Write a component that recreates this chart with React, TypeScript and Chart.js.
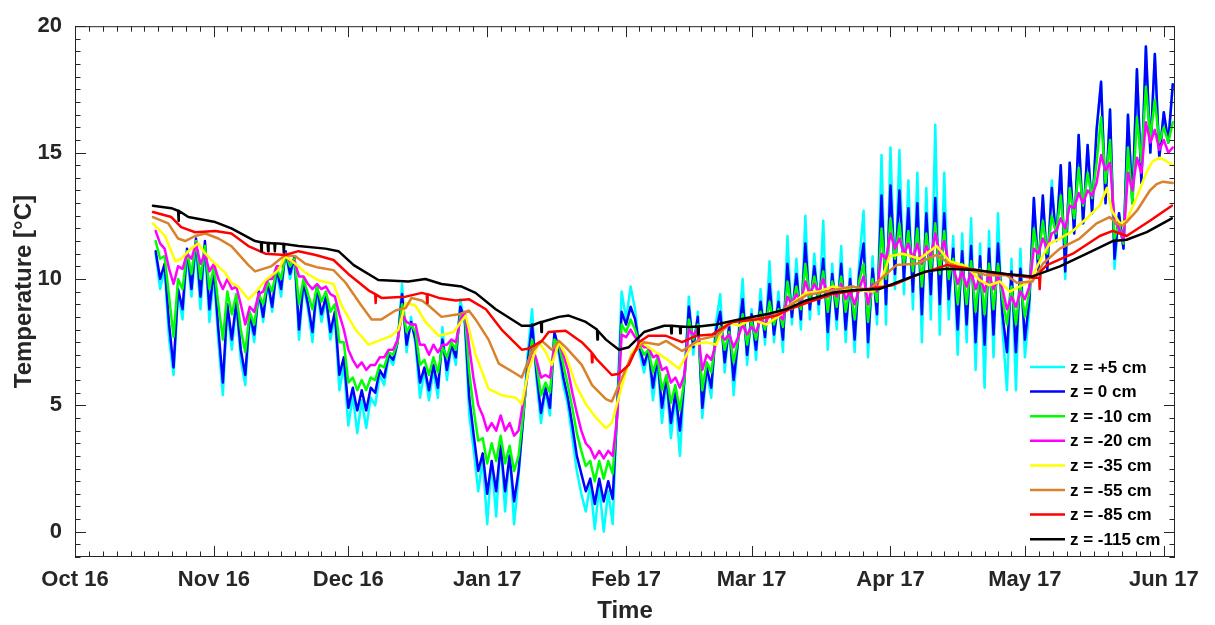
import React, { useEffect, useRef } from "react";
import { Chart, registerables } from "chart.js";

Chart.register(...registerables);

// ---------------- Axes (x = days since 1 Oct 2016) ----------------
const MONTH_START_DAYS = [0, 31, 61, 92, 123, 151, 182, 212, 243];
const MONTH_LENGTHS = [31, 30, 31, 31, 28, 31, 30, 31, 30];
const MONTH_LABELS = ["Oct 16", "Nov 16", "Dec 16", "Jan 17", "Feb 17", "Mar 17", "Apr 17", "May 17", "Jun 17"];
const Y_TICKS = [0, 5, 10, 15, 20];
const X_RANGE = [0, 245.5];
const Y_RANGE = [-1, 20];

const SERIES_LABELS = ["z = +5 cm", "z = 0 cm", "z = -10 cm", "z = -20 cm", "z = -35 cm", "z = -55 cm", "z = -85 cm", "z = -115 cm"];
const SERIES_COLORS = ["#00FFFF", "#0000FF", "#00FF00", "#FF00FF", "#FFFF00", "#D9822B", "#FF0000", "#000000"];

// ---------------- Near-surface sensors: one reading per day from day 18 (19 Oct 2016) ----------------
const SURFACE_FIRST_DAY = 18;

const T_PLUS5 = [
  11.0, 9.6, 10.4, 7.6, 6.2, 9.4, 8.4, 11.0, 9.3, 11.3,
  8.8, 11.3, 8.3, 10.2, 7.5, 5.4, 8.8, 7.2, 9.0, 6.8,
  5.8, 8.5, 7.5, 9.5, 8.3, 9.9, 8.7, 10.3, 9.3, 11.1,
  10.0, 10.8, 7.6, 9.8, 8.8, 7.5, 9.6, 8.3, 9.2, 7.6,
  8.5, 5.6, 6.6, 4.2, 5.4, 3.9, 5.2, 4.1, 5.3, 5.0,
  6.2, 5.8, 6.9, 6.6, 7.5, 9.8, 7.1, 8.5, 7.4, 5.3,
  6.4, 5.2, 6.4, 5.3, 8.1, 6.0, 7.4, 6.6, 9.2, 8.2,
  4.6, 3.2, 1.6, 2.9, 0.3, 2.8, 0.6, 3.6, 0.8, 3.2,
  0.3, 2.2, 4.5, 7.0, 8.8, 6.0, 4.3, 5.6, 4.6, 7.9,
  7.0, 5.8, 5.0, 3.7, 2.4, 1.5, 0.8, 1.9, 0.1, 1.8,
  0.0, 1.6, 0.3, 5.0, 9.5, 8.4, 9.7, 8.8, 7.1, 6.3,
  7.2, 5.2, 6.8, 4.3, 6.0, 3.7, 5.4, 3.0, 6.0, 9.3,
  7.0, 8.7, 4.5, 6.4, 5.3, 8.2, 9.4, 6.3, 8.3, 5.4,
  7.6, 10.0, 6.6, 8.8, 6.8, 9.6, 7.4, 10.7, 7.5, 9.5,
  7.1, 11.7, 8.2, 10.8, 8.0, 12.5, 8.4, 11.0, 8.6, 12.3,
  7.2, 10.6, 8.0, 11.3, 7.5, 10.4, 7.1, 10.6, 12.7, 6.9,
  10.9, 8.2, 14.9, 8.2, 15.2, 9.6, 15.1, 9.4, 13.9, 8.8,
  14.2, 7.5, 13.6, 8.4, 16.1, 7.8, 14.2, 8.4, 11.7, 7.0,
  11.8, 7.5, 12.4, 6.4, 11.4, 5.7, 11.9, 6.9, 12.6, 8.0,
  5.6, 10.8, 5.6, 11.2, 6.9, 8.8, 13.2, 10.3, 13.3, 10.4,
  13.9, 11.5, 14.5, 10.0, 14.6, 11.8, 15.7, 12.2, 15.3, 12.6,
  15.9, 17.8, 13.0, 16.7, 10.4, 12.6, 11.2, 16.5, 13.0, 18.3,
  13.8, 19.2, 15.0, 18.9, 14.8, 16.6, 15.4, 17.7,
];

const T_0 = [
  11.1, 10.0, 10.6, 8.2, 6.5, 9.6, 8.8, 11.2, 9.6, 11.6,
  9.3, 11.5, 8.8, 10.4, 8.0, 5.9, 9.0, 7.6, 9.1, 7.2,
  6.2, 8.6, 7.8, 9.5, 8.5, 9.9, 8.9, 10.4, 9.6, 11.1,
  10.2, 10.9, 8.0, 9.9, 9.0, 7.9, 9.7, 8.6, 9.3, 7.9,
  8.7, 6.2, 6.9, 4.9, 5.7, 4.8, 5.6, 4.8, 5.7, 5.5,
  6.4, 6.1, 7.0, 6.8, 7.5, 9.4, 7.4, 8.3, 7.6, 5.9,
  6.5, 5.6, 6.6, 5.7, 7.6, 6.4, 7.4, 6.9, 8.9, 8.4,
  5.3, 3.8, 2.4, 3.1, 1.5, 2.8, 1.6, 3.4, 1.6, 3.0,
  1.2, 2.4, 4.4, 6.6, 8.2, 6.3, 4.7, 5.7, 4.9, 7.9,
  7.2, 6.1, 5.3, 4.2, 3.0, 2.3, 1.6, 2.1, 1.1, 2.1,
  1.2, 2.0, 1.3, 4.8, 8.7, 8.2, 8.9, 8.4, 7.3, 6.6,
  7.2, 5.7, 6.9, 4.9, 6.1, 4.3, 5.5, 4.0, 6.0, 8.9,
  7.3, 8.5, 4.9, 6.5, 5.7, 7.9, 8.7, 6.7, 8.1, 6.0,
  7.6, 9.2, 7.0, 8.6, 7.2, 9.1, 7.7, 9.8, 7.8, 9.1,
  7.6, 10.6, 8.5, 10.2, 8.4, 11.4, 8.8, 10.5, 9.0, 10.8,
  7.9, 10.2, 8.4, 10.6, 8.0, 10.0, 7.6, 10.2, 11.4, 7.5,
  10.4, 8.6, 13.3, 9.0, 13.7, 10.2, 13.5, 10.0, 12.8, 9.5,
  13.0, 8.6, 12.6, 9.4, 13.2, 9.0, 12.6, 9.2, 11.2, 8.0,
  11.1, 8.2, 11.3, 7.5, 10.9, 7.4, 11.2, 7.8, 11.4, 8.6,
  7.1, 10.3, 7.1, 10.4, 7.6, 9.2, 13.2, 10.3, 13.3, 10.4,
  13.6, 11.5, 14.5, 10.3, 14.6, 11.8, 15.7, 12.2, 15.3, 12.6,
  15.9, 17.8, 13.0, 16.7, 10.8, 12.6, 11.2, 16.5, 13.0, 18.3,
  13.8, 19.2, 15.0, 18.9, 14.8, 16.6, 15.4, 17.7,
];

const T_M10 = [
  11.5, 10.8, 10.9, 9.3, 7.7, 10.0, 9.6, 11.1, 10.2, 11.5,
  10.0, 11.3, 9.6, 10.5, 9.0, 7.6, 9.5, 8.6, 9.4, 8.0,
  7.1, 8.7, 8.2, 9.4, 9.0, 9.9, 9.5, 10.4, 10.0, 11.0,
  10.5, 10.8, 9.0, 10.0, 9.4, 8.8, 9.7, 9.1, 9.5, 8.7,
  9.0, 7.5, 7.5, 5.9, 6.1, 5.6, 6.0, 5.6, 6.1, 6.0,
  6.6, 6.5, 7.1, 7.0, 7.5, 9.0, 7.9, 8.2, 7.9, 6.6,
  6.8, 6.2, 6.9, 6.3, 7.3, 6.9, 7.5, 7.2, 8.6, 8.6,
  6.3, 4.8, 3.6, 3.7, 2.7, 3.5, 2.8, 3.8, 2.7, 3.4,
  2.4, 3.0, 4.6, 6.3, 7.6, 6.6, 5.4, 5.9, 5.5, 7.6,
  7.4, 6.6, 5.8, 4.9, 3.9, 3.2, 2.6, 2.8, 2.0, 2.8,
  2.1, 2.8, 2.3, 4.6, 8.2, 7.9, 8.4, 8.0, 7.4, 7.0,
  7.2, 6.3, 6.9, 5.6, 6.2, 5.1, 5.8, 4.8, 6.0, 8.4,
  7.6, 8.2, 5.6, 6.7, 6.3, 7.6, 8.1, 7.2, 7.9, 6.7,
  7.6, 8.6, 7.4, 8.3, 7.6, 8.7, 8.0, 9.1, 8.2, 8.8,
  8.1, 9.9, 8.8, 9.7, 8.8, 10.6, 9.2, 10.1, 9.3, 10.3,
  8.7, 9.9, 8.9, 10.1, 8.7, 9.7, 8.4, 9.9, 10.6, 8.3,
  10.0, 9.1, 12.0, 10.0, 12.4, 10.8, 12.2, 10.6, 11.9, 10.3,
  12.0, 9.7, 11.8, 10.3, 12.2, 10.2, 11.9, 10.0, 10.8, 9.0,
  10.6, 9.0, 10.7, 8.7, 10.4, 8.6, 10.6, 8.8, 10.6, 9.2,
  8.2, 9.7, 8.2, 9.8, 8.5, 9.5, 12.0, 10.8, 12.3, 11.0,
  12.5, 11.8, 13.3, 11.3, 13.6, 12.4, 14.4, 12.9, 14.2, 13.2,
  14.6, 16.4, 13.8, 15.5, 11.6, 12.2, 11.4, 15.2, 13.0, 16.4,
  14.6, 17.6, 15.6, 17.1, 15.4, 16.0, 15.4, 16.2,
];

const T_M20 = [
  11.9, 11.4, 11.2, 10.4, 9.8, 10.5, 10.4, 11.0, 10.8, 11.4,
  10.6, 11.0, 10.3, 10.6, 10.0, 9.6, 10.0, 9.6, 9.7, 9.0,
  8.2, 8.9, 8.7, 9.4, 9.5, 10.0, 10.0, 10.5, 10.5, 11.0,
  10.7, 10.7, 10.1, 10.1, 9.8, 9.6, 9.8, 9.6, 9.7, 9.4,
  9.3, 8.6, 8.0, 7.2, 6.8, 6.5, 6.7, 6.4, 6.6, 6.6,
  6.9, 6.9, 7.2, 7.2, 7.6, 8.6, 8.3, 8.2, 8.2, 7.4,
  7.4, 7.0, 7.4, 7.1, 7.4, 7.4, 7.6, 7.5, 8.4, 8.7,
  7.3, 6.0, 5.0, 4.6, 4.0, 4.3, 4.0, 4.6, 4.0, 4.3,
  3.8, 4.0, 5.1, 6.2, 7.2, 6.8, 6.1, 6.2, 6.1, 7.3,
  7.5, 7.0, 6.4, 5.5, 4.7, 4.0, 3.5, 3.3, 2.9, 3.2,
  2.9, 3.2, 3.0, 4.5, 7.8, 7.7, 8.0, 7.7, 7.5, 7.3,
  7.3, 6.9, 7.0, 6.4, 6.5, 5.9, 6.1, 5.7, 6.2, 8.0,
  7.8, 8.0, 6.4, 7.0, 6.8, 7.4, 7.8, 7.6, 7.8, 7.3,
  7.7, 8.2, 7.8, 8.1, 7.9, 8.4, 8.2, 8.6, 8.4, 8.6,
  8.4, 9.3, 9.0, 9.4, 9.1, 9.9, 9.4, 9.8, 9.5, 10.0,
  9.3, 9.7, 9.3, 9.8, 9.2, 9.5, 9.0, 9.6, 10.1, 9.0,
  9.8, 9.5, 11.0, 10.8, 11.8, 11.2, 11.6, 11.0, 11.4, 10.8,
  11.4, 10.6, 11.3, 10.9, 11.8, 11.0, 11.5, 10.6, 10.5, 9.8,
  10.3, 9.7, 10.3, 9.6, 10.1, 9.5, 10.2, 9.6, 10.1, 9.6,
  8.8, 9.3, 8.9, 9.5, 9.2, 9.7, 11.2, 11.0, 11.6, 11.2,
  11.8, 11.9, 12.4, 12.0, 12.9, 12.8, 13.4, 13.0, 13.5, 13.3,
  13.8, 14.9, 14.3, 14.6, 12.3, 12.0, 11.5, 14.2, 13.5, 14.8,
  14.2, 16.2, 15.4, 15.9, 15.1, 15.5, 15.0, 15.2,
];

// ---------------- Deeper sensors: [day since 1 Oct 2016, °C] ----------------
const T_M35 = [
  [17.4, 12.2], [20.1, 11.7], [22.4, 10.7], [23.7, 10.8], [25.9, 11.2], [27.5, 11.4], [29.1, 11.0], [31.3, 10.6],
  [33.5, 10.25], [34.9, 9.85], [36.4, 9.7], [38.7, 9.2], [40.2, 9.45], [42.5, 9.95], [45.4, 10.35], [46.9, 10.9],
  [49.2, 10.6], [51.4, 10.25], [54.3, 9.95], [57.7, 9.8], [59.5, 8.95], [62.6, 8.0], [65.5, 7.4], [68.4, 7.6],
  [70.6, 7.75], [72.2, 8.0], [73.8, 9.05], [76.0, 8.95], [78.2, 8.3], [81.2, 7.75], [84.5, 7.9], [87.2, 8.55],
  [89.4, 7.0], [92.3, 5.65], [95.2, 5.4], [98.4, 5.3], [99.7, 5.05], [101.3, 6.45], [103.5, 7.5], [105.1, 7.1],
  [106.4, 6.6], [108.0, 7.5], [109.5, 7.0], [111.8, 5.8], [114.0, 5.05], [116.3, 4.5], [118.5, 4.1], [119.8, 4.3],
  [122.1, 5.8], [124.3, 7.1], [126.5, 7.5], [128.8, 7.2], [131.9, 6.85], [134.8, 6.45], [137.7, 7.4], [140.8, 7.5],
  [143.1, 7.4], [145.3, 8.3], [148.2, 8.15], [151.1, 8.4], [154.3, 8.2], [157.2, 8.55], [160.1, 9.05], [163.2, 9.45],
  [166.1, 9.5], [169.0, 9.7], [173.5, 9.55], [178.0, 9.5], [179.5, 9.7], [181.8, 10.9], [184.7, 11.0], [188.5, 10.8],
  [192.3, 11.3], [195.2, 10.7], [199.0, 10.5], [201.9, 9.95], [204.1, 9.75], [206.4, 9.9], [208.6, 9.5], [210.8, 9.7],
  [213.1, 9.9], [215.3, 10.7], [217.5, 11.4], [219.8, 11.6], [222.7, 11.9], [225.8, 12.4], [228.7, 12.9], [230.3, 13.6],
  [231.4, 12.7], [233.2, 12.2], [234.7, 12.3], [237.0, 13.25], [239.2, 14.25], [240.5, 14.65], [242.1, 14.8], [243.7, 14.65],
  [245.0, 14.5],
];

const T_M55 = [
  [17.4, 12.45], [20.8, 12.2], [23.0, 11.6], [24.6, 11.5], [26.8, 11.7], [29.1, 11.8], [32.0, 11.6], [34.9, 11.3],
  [38.7, 10.55], [40.2, 10.3], [43.8, 10.5], [46.9, 10.95], [49.2, 10.9], [51.4, 10.6], [54.3, 10.45], [57.7, 10.35],
  [60.4, 9.85], [63.9, 8.95], [66.2, 8.4], [68.4, 8.4], [71.5, 8.75], [73.8, 8.85], [75.1, 9.25], [77.4, 9.15],
  [78.9, 8.95], [81.8, 8.5], [85.6, 8.6], [87.9, 8.75], [89.4, 8.4], [92.3, 7.6], [94.6, 6.65], [98.4, 6.25],
  [99.7, 6.1], [101.9, 7.1], [104.2, 7.55], [106.4, 7.2], [108.0, 7.55], [109.5, 7.3], [113.1, 6.6], [115.4, 5.8],
  [118.5, 5.25], [119.8, 5.15], [121.4, 5.8], [124.3, 7.0], [127.0, 7.5], [130.3, 7.4], [131.9, 7.55], [135.5, 7.15],
  [139.3, 7.6], [143.1, 7.75], [146.7, 8.3], [151.1, 8.4], [155.6, 8.5], [159.4, 8.95], [163.2, 9.35], [169.0, 9.55],
  [173.5, 9.7], [177.3, 9.55], [179.5, 9.95], [183.3, 10.55], [187.8, 10.6], [192.3, 10.95], [195.2, 10.6], [199.6, 10.35],
  [203.4, 10.15], [207.9, 10.15], [210.2, 9.85], [213.7, 9.9], [216.0, 10.6], [219.8, 11.2], [224.2, 11.6], [228.0, 12.2],
  [230.9, 12.45], [232.5, 12.2], [233.9, 12.1], [237.0, 12.7], [239.9, 13.5], [241.4, 13.75], [242.8, 13.85], [245.0, 13.8],
];

const T_M85 = [
  [17.4, 12.65], [21.5, 12.45], [23.7, 12.05], [26.8, 11.85], [31.3, 11.9], [34.9, 11.8], [38.7, 11.3], [42.5, 11.0],
  [46.9, 10.95], [49.9, 11.1], [53.7, 10.95], [57.7, 10.75], [61.0, 10.2], [65.5, 9.55], [67.0, 9.4], [67.1, 9.05],
  [67.2, 9.38], [68.4, 9.25], [73.8, 9.3], [77.4, 9.45], [78.5, 9.4], [78.6, 9.05], [78.7, 9.4], [81.2, 9.25],
  [85.0, 9.15], [87.9, 9.2], [91.7, 8.8], [95.2, 8.0], [99.7, 7.2], [101.3, 7.25], [104.2, 7.55], [105.7, 7.9],
  [109.5, 7.95], [113.1, 7.5], [115.3, 7.1], [115.4, 6.7], [115.5, 7.05], [116.3, 6.85], [119.8, 6.2], [121.4, 6.25],
  [123.6, 6.6], [125.9, 7.5], [128.0, 7.75], [131.9, 7.75], [135.5, 7.5], [138.6, 7.75], [142.2, 7.8], [146.7, 8.3],
  [152.0, 8.4], [156.5, 8.55], [159.4, 8.8], [163.2, 9.05], [169.0, 9.4], [175.1, 9.55], [182.4, 9.75], [187.8, 10.15],
  [194.5, 10.55], [199.6, 10.4], [204.8, 10.25], [209.3, 10.15], [213.7, 10.05], [215.2, 10.05], [215.3, 9.6], [215.5, 10.3],
  [216.9, 10.55], [222.7, 11.0], [228.7, 11.7], [231.6, 11.9], [234.7, 11.7], [239.9, 12.3], [244.8, 12.9],
];

const T_M115 = [
  [17.4, 12.9], [21.5, 12.8], [23.0, 12.7], [23.1, 12.3], [23.2, 12.7], [25.3, 12.45], [31.3, 12.25], [34.9, 12.0],
  [40.2, 11.5], [41.5, 11.45], [41.6, 11.1], [41.7, 11.45], [43.0, 11.42], [43.1, 11.1], [43.2, 11.42], [44.5, 11.4],
  [44.6, 11.1], [44.7, 11.4], [45.4, 11.4], [46.5, 11.38], [46.6, 11.05], [46.7, 11.38], [49.9, 11.3], [55.9, 11.2],
  [58.8, 11.1], [62.2, 10.55], [67.7, 9.96], [74.4, 9.9], [78.2, 10.0], [81.8, 9.8], [86.3, 9.7], [89.4, 9.45],
  [93.9, 8.8], [99.7, 8.15], [101.9, 8.15], [104.0, 8.3], [104.1, 7.9], [104.2, 8.3], [108.0, 8.5], [110.2, 8.55],
  [114.0, 8.3], [116.5, 8.0], [116.6, 7.6], [116.7, 7.95], [118.5, 7.6], [121.4, 7.2], [123.6, 7.3], [127.0, 7.9],
  [131.5, 8.15], [133.0, 8.15], [133.1, 7.85], [133.2, 8.15], [135.0, 8.12], [135.1, 7.85], [135.2, 8.12], [137.0, 8.1],
  [139.0, 8.12], [139.1, 7.8], [139.2, 8.12], [143.1, 8.2], [148.2, 8.4], [154.3, 8.6], [158.7, 8.8], [163.2, 9.15],
  [169.0, 9.45], [173.5, 9.55], [179.5, 9.6], [184.7, 9.95], [190.0, 10.3], [194.5, 10.4], [201.2, 10.35], [207.9, 10.2],
  [213.7, 10.1], [219.8, 10.5], [225.8, 11.0], [231.6, 11.5], [234.7, 11.55], [239.2, 11.85], [244.8, 12.4],
];

const DAILY_SERIES = [T_PLUS5, T_0, T_M10, T_M20];
const PAIR_SERIES = [T_M35, T_M55, T_M85, T_M115];

const AXIS_COLOR = "#262626";
const FONT_FAMILY = "'Liberation Sans', Arial, Helvetica, sans-serif";

const matlabAxesPlugin = {
  id: "matlabAxes",
  afterDatasetsDraw(chart: any) {
    const { ctx, chartArea: a, scales } = chart;
    const xs = scales.x;
    const ys = scales.y;
    const majorLen = 11;
    const minorLen = 5.5;
    ctx.save();
    ctx.strokeStyle = AXIS_COLOR;
    ctx.lineWidth = 1;
    ctx.beginPath();
    const vTick = (px: number, len: number) => {
      const p = Math.round(px) + 0.5;
      ctx.moveTo(p, a.bottom);
      ctx.lineTo(p, a.bottom - len);
      ctx.moveTo(p, a.top);
      ctx.lineTo(p, a.top + len);
    };
    const hTick = (py: number, len: number) => {
      const p = Math.round(py) + 0.5;
      ctx.moveTo(a.left, p);
      ctx.lineTo(a.left + len, p);
      ctx.moveTo(a.right, p);
      ctx.lineTo(a.right - len, p);
    };
    MONTH_START_DAYS.forEach((d, i) => {
      vTick(xs.getPixelForValue(d), majorLen);
      for (let k = 1; k < 10; k++) {
        const v = d + (MONTH_LENGTHS[i] * k) / 10;
        if (v >= X_RANGE[1]) break;
        vTick(xs.getPixelForValue(v), minorLen);
      }
    });
    for (let v = Y_RANGE[0]; v <= Y_RANGE[1] + 1e-9; v += 0.5) {
      const isMajor = Y_TICKS.indexOf(v) >= 0;
      hTick(ys.getPixelForValue(v), isMajor ? majorLen : minorLen);
    }
    ctx.stroke();
    ctx.strokeRect(a.left + 0.5, a.top + 0.5, a.right - a.left - 1, a.bottom - a.top - 1);

    // legend
    const lineX0 = a.right - 145;
    const lineX1 = a.right - 110;
    const textX = a.right - 105;
    const rowY0 = a.bottom - 190;
    const rowGap = 24.6;
    ctx.font = `bold 17px ${FONT_FAMILY}`;
    ctx.textBaseline = "middle";
    ctx.textAlign = "left";
    SERIES_LABELS.forEach((label, i) => {
      const y = rowY0 + i * rowGap;
      ctx.strokeStyle = SERIES_COLORS[i];
      ctx.lineWidth = 2.5;
      ctx.beginPath();
      ctx.moveTo(lineX0, y);
      ctx.lineTo(lineX1, y);
      ctx.stroke();
      ctx.fillStyle = "#000000";
      ctx.fillText(label, textX, y + 1);
    });
    ctx.restore();
  },
};

export default function App() {
  const canvasRef = useRef<HTMLCanvasElement | null>(null);

  useEffect(() => {
    if (!canvasRef.current) return;
    const datasets: any[] = [];
    DAILY_SERIES.forEach((vals, i) => {
      datasets.push({
        label: SERIES_LABELS[i],
        data: vals.map((v, k) => ({ x: SURFACE_FIRST_DAY + k, y: v })),
        borderColor: SERIES_COLORS[i],
        backgroundColor: SERIES_COLORS[i],
        borderWidth: 2.5,
        pointRadius: 0,
        tension: 0,
        fill: false,
        order: 8 - i,
      });
    });
    PAIR_SERIES.forEach((pairs, j) => {
      const i = j + 4;
      datasets.push({
        label: SERIES_LABELS[i],
        data: pairs.map((p) => ({ x: p[0], y: p[1] })),
        borderColor: SERIES_COLORS[i],
        backgroundColor: SERIES_COLORS[i],
        borderWidth: 2.5,
        pointRadius: 0,
        tension: 0,
        fill: false,
        order: 8 - i,
      });
    });

    const chart = new Chart(canvasRef.current, {
      type: "line",
      data: { datasets },
      plugins: [matlabAxesPlugin],
      options: {
        animation: false,
        responsive: false,
        devicePixelRatio: 1,
        layout: { padding: { top: 18, right: 40, left: 0, bottom: 0 } },
        plugins: { legend: { display: false }, tooltip: { enabled: false } },
        elements: { line: { borderJoinStyle: "round", borderCapStyle: "round" } },
        scales: {
          x: {
            type: "linear",
            min: X_RANGE[0],
            max: X_RANGE[1],
            grid: { display: false, drawTicks: false },
            border: { display: false },
            afterBuildTicks: (scale: any) => {
              scale.ticks = MONTH_START_DAYS.map((v) => ({ value: v }));
            },
            afterFit: (scale: any) => {
              scale.height = 68;
            },
            ticks: {
              autoSkip: false,
              maxRotation: 0,
              minRotation: 0,
              padding: 10,
              color: AXIS_COLOR,
              font: { family: FONT_FAMILY, size: 22, weight: "bold" },
              callback: (value: any) => {
                const idx = MONTH_START_DAYS.indexOf(Number(value));
                return idx >= 0 ? MONTH_LABELS[idx] : "";
              },
            },
            title: {
              display: true,
              text: "Time",
              color: AXIS_COLOR,
              padding: { top: 0, bottom: 0 },
              font: { family: FONT_FAMILY, size: 24, weight: "bold", lineHeight: 1.1 },
            },
          },
          y: {
            type: "linear",
            min: Y_RANGE[0],
            max: Y_RANGE[1],
            grid: { display: false, drawTicks: false },
            border: { display: false },
            afterBuildTicks: (scale: any) => {
              scale.ticks = Y_TICKS.map((v) => ({ value: v }));
            },
            afterFit: (scale: any) => {
              scale.width = 75;
            },
            ticks: {
              padding: 13,
              color: AXIS_COLOR,
              font: { family: FONT_FAMILY, size: 22, weight: "bold" },
              callback: (value: any) => String(value),
            },
            title: {
              display: true,
              text: "Temperature [°C]",
              color: AXIS_COLOR,
              padding: { top: 11, bottom: 0 },
              font: { family: FONT_FAMILY, size: 24, weight: "bold", lineHeight: 1.1 },
            },
          },
        },
      },
    });
    return () => chart.destroy();
  }, []);

  return (
    <div style={{ position: "fixed", left: 0, top: 0, width: 1215, height: 625, background: "#ffffff" }}>
      <canvas ref={canvasRef} width={1215} height={625} style={{ display: "block", width: 1215, height: 625 }} />
    </div>
  );
}
